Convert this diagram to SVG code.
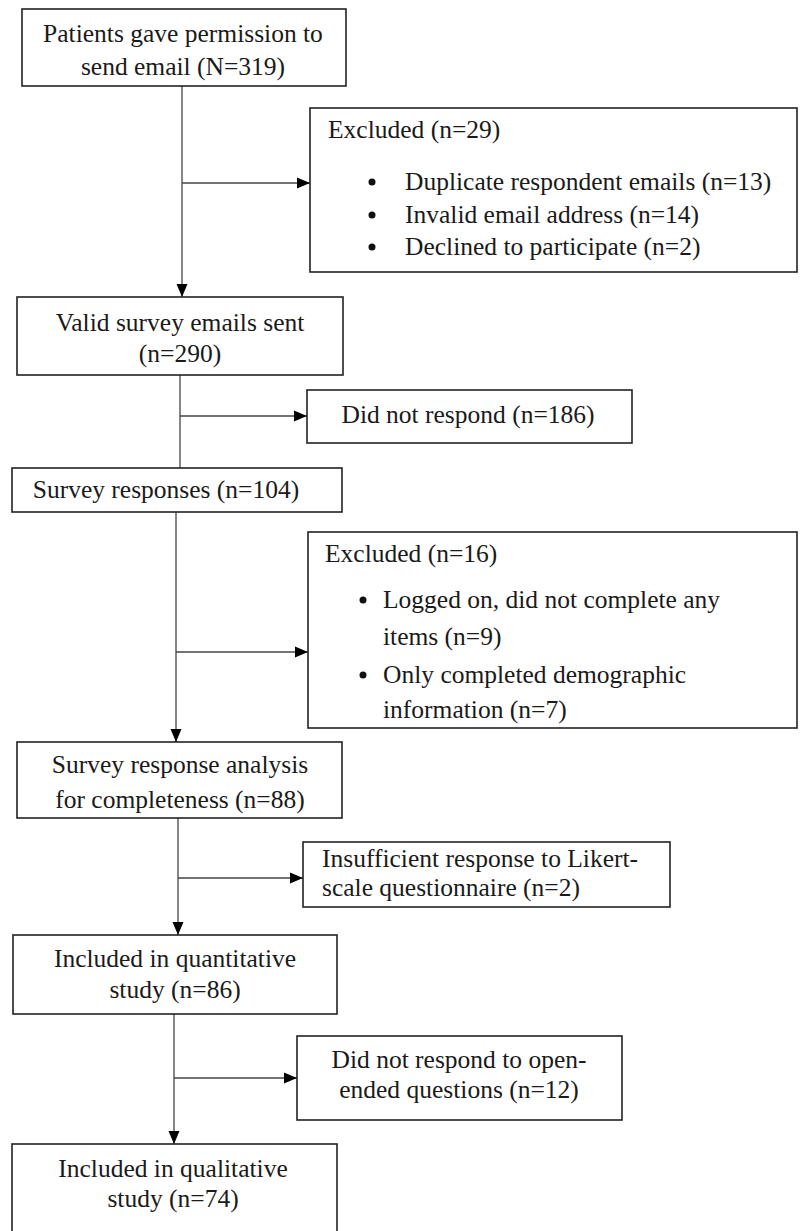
<svg xmlns="http://www.w3.org/2000/svg" width="800" height="1231" viewBox="0 0 800 1231">
<defs>
<style>
.box{fill:#fff;stroke:#222;stroke-width:1.6}
.t{font-family:"Liberation Serif","Times New Roman",serif;font-size:25.5px;fill:#1a1a1a}
.c{text-anchor:middle}
.ln{stroke:#444;stroke-width:1.3;fill:none}
.dot{fill:#111}
</style>
<marker id="ah" markerUnits="userSpaceOnUse" markerWidth="14" markerHeight="14" viewBox="0 0 14 14" refX="13" refY="7" orient="auto">
<path d="M0,1.5 L13,7 L0,12.5 Z" fill="#000"/>
</marker>
</defs>
<rect width="800" height="1231" fill="#fff"/>
<g id="connectors">
<line class="ln" x1="182" y1="86" x2="182" y2="297" marker-end="url(#ah)"/>
<line class="ln" x1="182" y1="183" x2="310" y2="183" marker-end="url(#ah)"/>
<line class="ln" x1="180" y1="375" x2="180" y2="468"/>
<line class="ln" x1="180" y1="416" x2="307" y2="416" marker-end="url(#ah)"/>
<line class="ln" x1="176" y1="512" x2="176" y2="742" marker-end="url(#ah)"/>
<line class="ln" x1="176" y1="652" x2="308" y2="652" marker-end="url(#ah)"/>
<line class="ln" x1="178" y1="818" x2="178" y2="935" marker-end="url(#ah)"/>
<line class="ln" x1="178" y1="878" x2="303" y2="878" marker-end="url(#ah)"/>
<line class="ln" x1="174" y1="1014" x2="174" y2="1144" marker-end="url(#ah)"/>
<line class="ln" x1="174" y1="1078" x2="297" y2="1078" marker-end="url(#ah)"/>
</g>
<g id="n1">
<rect class="box" x="22" y="9" width="324" height="77"/>
<text class="t c" x="183" y="42">Patients gave permission to</text>
<text class="t c" x="183" y="75">send email (N=319)</text>
</g>
<g id="n_excl29">
<rect class="box" x="310" y="108" width="487" height="164"/>
<text class="t" x="328" y="138">Excluded (n=29)</text>
<circle class="dot" cx="372" cy="182" r="3.5"/>
<text class="t" x="405" y="190">Duplicate respondent emails (n=13)</text>
<circle class="dot" cx="372" cy="215" r="3.5"/>
<text class="t" x="405" y="223">Invalid email address (n=14)</text>
<circle class="dot" cx="372" cy="247" r="3.5"/>
<text class="t" x="405" y="255">Declined to participate (n=2)</text>
</g>
<g id="n2">
<rect class="box" x="17" y="297" width="326" height="78"/>
<text class="t c" x="180" y="331">Valid survey emails sent</text>
<text class="t c" x="180" y="362">(n=290)</text>
</g>
<g id="n_dnr186">
<rect class="box" x="307" y="390" width="325" height="53"/>
<text class="t c" x="468" y="423">Did not respond (n=186)</text>
</g>
<g id="n3">
<rect class="box" x="12" y="468" width="330" height="44"/>
<text class="t c" x="166" y="498">Survey responses (n=104)</text>
</g>
<g id="n_excl16">
<rect class="box" x="308" y="532" width="489" height="196"/>
<text class="t" x="325" y="562">Excluded (n=16)</text>
<circle class="dot" cx="363" cy="600" r="3.5"/>
<text class="t" x="383" y="608">Logged on, did not complete any</text>
<text class="t" x="383" y="645">items (n=9)</text>
<circle class="dot" cx="363" cy="675" r="3.5"/>
<text class="t" x="383" y="683">Only completed demographic</text>
<text class="t" x="383" y="718">information (n=7)</text>
</g>
<g id="n4">
<rect class="box" x="17" y="742" width="325" height="76"/>
<text class="t c" x="180" y="773">Survey response analysis</text>
<text class="t c" x="180" y="808">for completeness (n=88)</text>
</g>
<g id="n_insuff">
<rect class="box" x="303" y="842" width="367" height="65"/>
<text class="t" x="322" y="867">Insufficient response to Likert-</text>
<text class="t" x="322" y="896">scale questionnaire (n=2)</text>
</g>
<g id="n5">
<rect class="box" x="13" y="935" width="324" height="79"/>
<text class="t c" x="175" y="967">Included in quantitative</text>
<text class="t c" x="175" y="998">study (n=86)</text>
</g>
<g id="n_open">
<rect class="box" x="297" y="1036" width="325" height="84"/>
<text class="t c" x="459" y="1068">Did not respond to open-</text>
<text class="t c" x="459" y="1098">ended questions (n=12)</text>
</g>
<g id="n6">
<rect class="box" x="12" y="1144" width="325" height="100"/>
<text class="t c" x="173" y="1177">Included in qualitative</text>
<text class="t c" x="173" y="1207">study (n=74)</text>
</g>
</svg>
